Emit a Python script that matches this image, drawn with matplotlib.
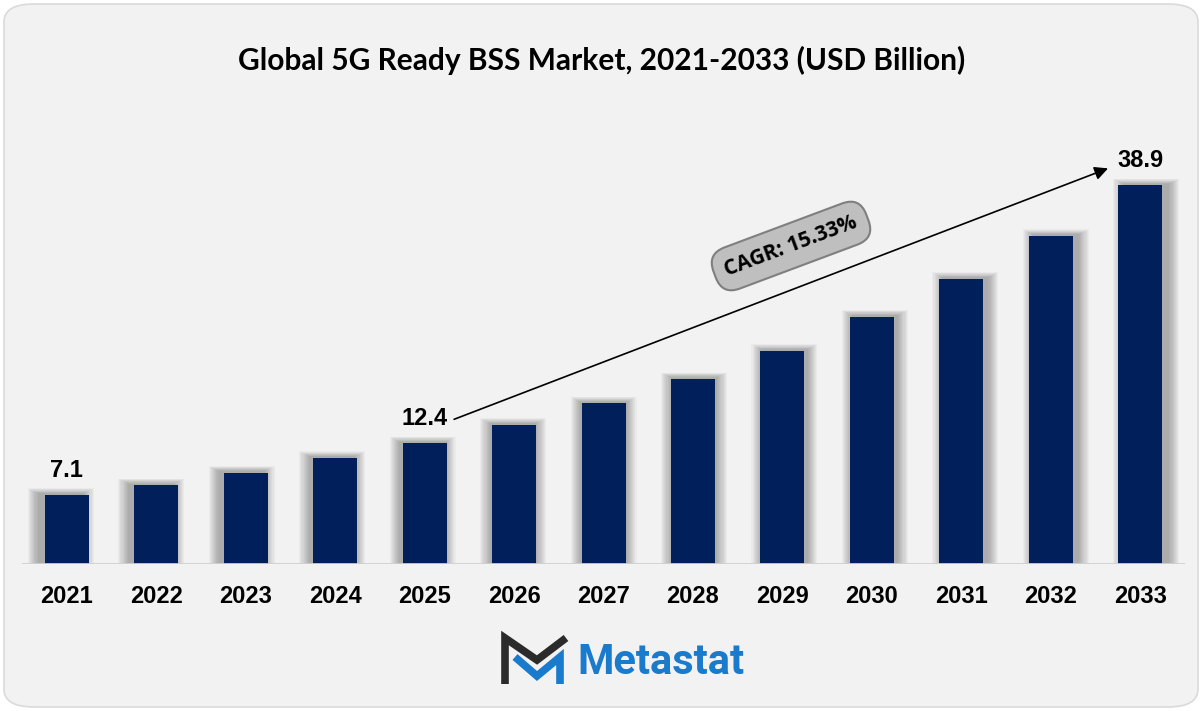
import matplotlib.pyplot as plt
from matplotlib.patches import FancyBboxPatch
from matplotlib.lines import Line2D

years = ['2021', '2022', '2023', '2024', '2025', '2026', '2027',
         '2028', '2029', '2030', '2031', '2032', '2033']
values = [7.1, 8.1, 9.4, 10.9, 12.4, 14.3, 16.5, 19.0, 21.9, 25.4, 29.3, 33.7, 38.9]
labelled = {0: '7.1', 4: '12.4', 12: '38.9'}
cagr_text = 'CAGR: 15.33%'
title = 'Global 5G Ready BSS Market, 2021-2033 (USD Billion)'

W, H = 1202, 711
fig = plt.figure(figsize=(W / 100, H / 100), dpi=100)
fig.patch.set_facecolor('white')

# rounded grey card behind everything
card = FancyBboxPatch((4 / W, 4 / H), (W - 8) / W, (H - 8) / H,
                      boxstyle='round,pad=0,rounding_size=0.025',
                      transform=fig.transFigure, facecolor='#F2F2F2',
                      edgecolor='#DADADA', linewidth=1.2, zorder=-10)
fig.patches.append(card)

# axes placement in pixels
ax_left, ax_right = 22, 1185
base_y, ymax = 564, 45.0
ax_h = 438
ax = fig.add_axes([ax_left / W, (H - base_y) / H, (ax_right - ax_left) / W, ax_h / H])
ax.set_facecolor('none')
ax.set_xlim(-0.5, len(years) - 0.5)
ax.set_ylim(0, ymax)
for s in ax.spines.values():
    s.set_visible(False)
ax.set_yticks([])
ax.tick_params(axis='x', length=0, pad=15)
ax.set_xticks(range(len(years)))
ax.set_xticklabels(years, fontfamily='Liberation Sans', fontweight='bold', fontsize=17)

px_x = (len(years)) / (ax_right - ax_left)
px_y = ymax / ax_h
bar_w = 44 * px_x
xs = list(range(len(years)))

# soft shadow (perspective: leans left on the left side, right on the right side)
mid = (len(years) - 1) / 2
for i in range(1, 11):
    grow = i * 1.1
    ax.bar([x + (x - mid) / mid * 6 * px_x for x in xs],
           [v + (1 + grow * 0.5) * px_y for v in values],
           width=bar_w + 2 * grow * px_x, color='black', alpha=0.03,
           linewidth=0, zorder=1)

ax.bar(xs, values, width=bar_w, color='#001F5B', linewidth=0, zorder=3)

ax.axhline(0, color='#D0D0D0', linewidth=2, zorder=4)

for i, txt in labelled.items():
    ax.text(i, values[i] + 13 * px_y, txt, ha='center', va='bottom',
            fontfamily='Liberation Sans', fontweight='bold', fontsize=17, zorder=5)

# CAGR arrow
ax.annotate('', xy=(11.64, values[12] + 17 * px_y), xytext=(4.33, values[4] + 24 * px_y),
            arrowprops=dict(arrowstyle='-|>', color='black', lw=1.2,
                            mutation_scale=20, shrinkA=0, shrinkB=0), zorder=6)
fig.text(791 / W, 1 - 246 / H, cagr_text, rotation=20.5, ha='center', va='center',
         fontfamily='Open Sans', fontweight='bold', fontsize=15, color='black',
         rotation_mode='anchor',
         bbox=dict(boxstyle='round,pad=0.55,rounding_size=0.9', facecolor='#BFBFBF',
                   edgecolor='#7F7F7F', linewidth=1.5), zorder=7)

fig.text(602 / W, 1 - 60 / H, title, ha='center', va='center',
         fontfamily='Lato', fontweight='bold', fontsize=21.5, color='black')

# logo: two chevrons
def px(x, y):
    return x / W, 1 - y / H

dark = [px(505, 684), px(505, 638), px(537, 660), px(566, 638)]
blue = [px(515, 657), px(537, 676), px(560, 657), px(560, 684)]
for pts, col in ((dark, '#2B2B2B'), (blue, '#1A7ACB')):
    xs_l, ys_l = zip(*pts)
    fig.add_artist(Line2D(xs_l, ys_l, transform=fig.transFigure, color=col,
                          linewidth=5.5, solid_joinstyle='miter', solid_capstyle='butt'))
fig.text(577 / W, 1 - 662 / H, 'Metastat', ha='left', va='center',
         fontfamily='Roboto', fontweight='bold', fontsize=30, color='#1A7ACB')

fig.savefig('out.png', dpi=100, facecolor='white')
